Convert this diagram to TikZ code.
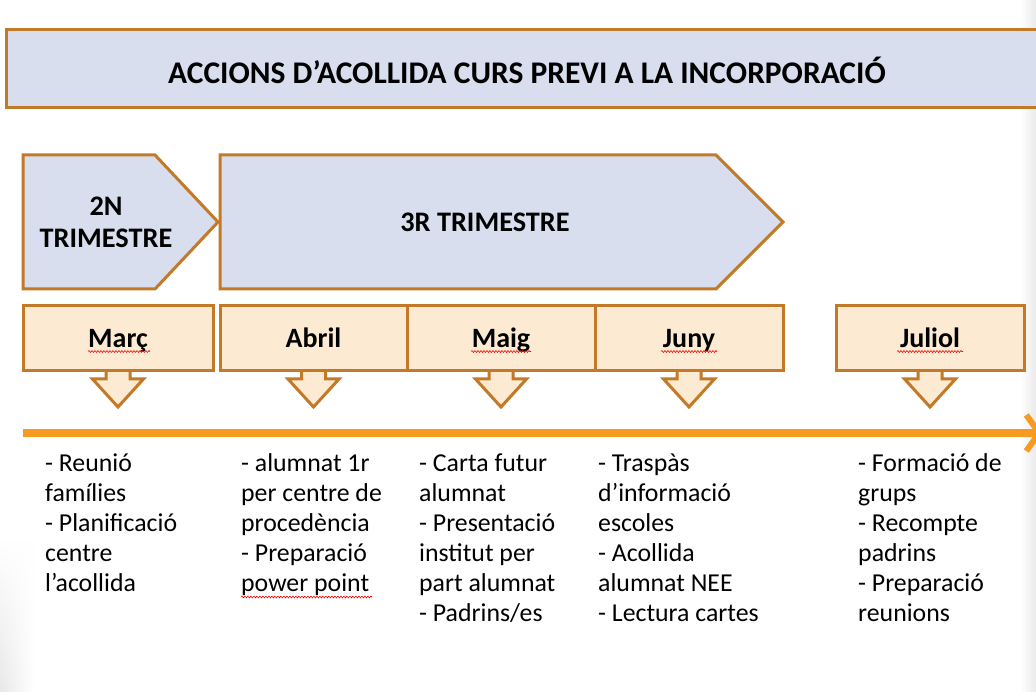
\documentclass[tikz,border=0pt]{standalone}
\usepackage{fontspec}
\setmainfont{Carlito}
\usepackage{tikz}
\usetikzlibrary{positioning,arrows.meta,calc,decorations.pathmorphing,fadings}

\definecolor{vora}{HTML}{C27A28}
\definecolor{blauclar}{HTML}{D8DEEE}
\definecolor{crema}{HTML}{FDEAD3}
\definecolor{taronja}{HTML}{F79A22}

\tikzset{
  trimestre/.style={draw=vora, fill=blauclar, line width=3pt, line join=miter},
  mes/.style={draw=vora, fill=crema, line width=3pt, minimum height=65pt, inner sep=0pt,
    text height=25pt, text depth=6pt, font=\bfseries\fontsize{28}{30}\selectfont},
  fletxa/.style={draw=vora, fill=crema, line width=3pt, line join=miter},
  tasca/.style={anchor=base west, align=left, inner sep=0pt,
    font=\fontsize{25.8}{30}\selectfont},
  corrector/.style={red, line width=0.6pt, decorate,
    decoration={snake, amplitude=0.9pt, segment length=3pt}}
}

\begin{document}
\begin{tikzpicture}[x=1pt,y=-1pt]
\useasboundingbox[fill=white] (0,0) rectangle (1036,692);
\shade[left color=black!9, right color=white, path fading=north] (0,540) rectangle (34,692);
\shade[left color=white, right color=black!8] (1020,0) rectangle (1036,692);

% titol
\draw[trimestre] (6,30) rectangle (1045,108);
\node[font=\bfseries\fontsize{31.5}{34}\selectfont] (titol) at (527,70) {ACCIONS D’ACOLLIDA CURS PREVI A LA INCORPORACIÓ};

% trimestres
\draw[trimestre] (23,155) -- (155,155) -- (218,222) -- (155,289) -- (23,289) -- cycle;
\draw[trimestre] (220,155) -- (716,155) -- (783,222) -- (716,289) -- (220,289) -- cycle;
\node[align=center, font=\bfseries\fontsize{28.3}{32}\selectfont] (segon) at (106,222) {2N\\TRIMESTRE};
\node[font=\bfseries\fontsize{28.3}{32}\selectfont] (tercer) at (485,222) {3R TRIMESTRE};

% fletxes cap avall
\foreach \cx in {118,313.5,501,689,930}
  \draw[fletxa] (\cx-12,371) -- (\cx-12,379) -- (\cx-25.5,379) -- (\cx,407)
    -- (\cx+25.5,379) -- (\cx+12,379) -- (\cx+12,371);

% mesos
\node[mes, minimum width=190pt] (marc) at (118,338.5) {Març};
\node[mes, minimum width=187pt] (abril) at (313.5,338.5) {Abril};
\node[mes, minimum width=188pt] (maig) at (501,338.5) {Maig};
\node[mes, minimum width=188pt] (juny) at (689,338.5) {Juny};
\node[mes, minimum width=188pt] (juliol) at (930,338.5) {Juliol};

% subratllats del corrector
\draw[corrector] ($(marc.center)+(-30,13)$) -- ++(62,0);
\draw[corrector] ($(maig.center)+(-30,13)$) -- ++(60,0);
\draw[corrector] ($(juny.center)+(-28,13)$) -- ++(56,0);
\draw[corrector] ($(juliol.center)+(-33,13)$) -- ++(66,0);

% linia de temps
\coordinate (inici) at (23,433);
\coordinate (final) at (1043,433);
\draw[taronja, line width=7.5pt, -{Straight Barb[length=13pt,width=36pt,line width=6pt]}] (inici) -- (final);

% tasques (base = ultima linia)
\node[tasca] (t1) at (45,591) {- Reunió\\famílies\\- Planificació\\centre\\l’acollida};
\node[tasca] (t2) at (241,591) {- alumnat 1r\\per centre de\\procedència\\- Preparació\\power point};
\node[tasca] (t3) at (419,621) {- Carta futur\\alumnat\\- Presentació\\institut per\\part alumnat\\- Padrins/es};
\node[tasca] (t4) at (598,621) {- Traspàs\\d’informació\\escoles\\- Acollida\\alumnat NEE\\- Lectura cartes};
\node[tasca] (t5) at (858,621) {- Formació de\\grups\\- Recompte\\padrins\\- Preparació\\reunions};
\draw[corrector] (241,597) -- (372,597);
\end{tikzpicture}
\end{document}
